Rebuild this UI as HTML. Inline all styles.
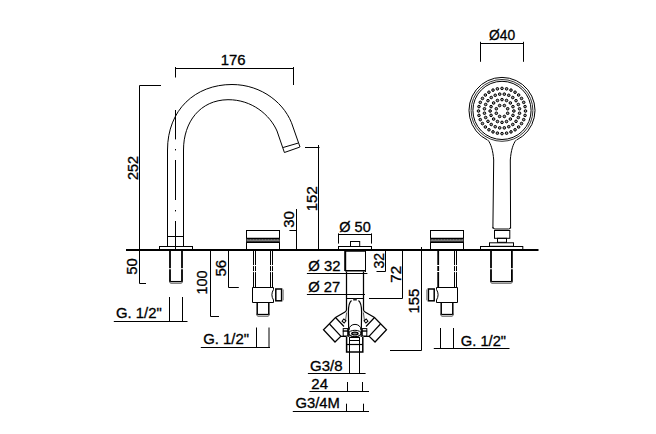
<!DOCTYPE html>
<html><head><meta charset="utf-8">
<style>
html,body{margin:0;padding:0;background:#fff;}
svg{display:block;}
text{font-family:"Liberation Sans",sans-serif;font-size:14px;fill:#000;stroke:#000;stroke-width:0.3px;}
</style></head>
<body>
<svg width="656" height="434" viewBox="0 0 656 434">
<rect width="656" height="434" fill="#fff"/>
<g fill="none" stroke="#000" stroke-width="1">
<!-- deck line -->
<line x1="126" y1="250" x2="538.5" y2="250" stroke-width="1.9"/>

<!-- ===== SPOUT ===== -->
<path d="M167.5,246.5 L167.5,150 C167.5,110 195,84.5 232,84.5 C262,84.5 286,104 293,127 L300,147"/>
<path d="M183.5,246.5 L183.5,150 C183.5,122 200,100 228,99.7 C252,99.5 270,115 277,131 L284.4,152.5"/>
<path d="M283.1,147.5 L298.1,143.1 M284.4,152.5 L299.8,147.1"/>
<line x1="167.5" y1="236.5" x2="183.5" y2="236.5"/>
<rect x="159.5" y="246.5" width="33" height="3"/>
<!-- center line -->
<path d="M175.5,110 V139.4 M175.5,149 V150.4 M175.5,160 V200 M175.5,210 V211.4 M175.5,221 V250"/>
<!-- below deck tube -->
<path d="M170,250 V281.5 M182,250 V281.5" stroke-width="1.8" stroke-dasharray="18.3 0.9 27"/>
<path d="M169.3,281.6 H182.7" stroke-width="1.3"/><path d="M170,281.6 V282.5 Q170,283.3 170.8,283.3 H181.2 Q182,283.3 182,282.5 V281.6" stroke="#666"/>

<!-- ===== LEFT HANDLE ===== -->
<g>
<rect x="246.5" y="230.5" width="33" height="19"/>
<rect x="246.5" y="238.2" width="33" height="4.2" fill="#6a6a6a" stroke="none"/>
<path d="M247,239.9 h32 M248.5,240.9 h31" stroke="#bbb" stroke-width="0.7" stroke-dasharray="1 2"/>
<line x1="246.5" y1="238.5" x2="279.5" y2="238.5" stroke-width="1.4"/>
<line x1="246.5" y1="242.2" x2="279.5" y2="242.2" stroke-width="1.4"/>
<path d="M273.5,289.5 V287.5 H252.5 V302.5 H273.5 V300 Q270.3,294.8 273.5,289.5"/>
<rect x="275.8" y="289" width="5.8" height="11.8" stroke-width="1.5"/>
<path d="M283.3,289.5 V300.3" stroke="#888"/>
<path d="M257.2,302.5 V314.5 M268.8,302.5 V314.5" stroke-width="1.5"/>
<path d="M256.5,314.5 H269.5" stroke-width="1.3"/>
<path d="M257.2,314.5 V315.5 Q257.2,316.3 258,316.3 H268 Q268.8,316.3 268.8,315.5 V314.5" stroke="#666"/>
</g>
<g transform="translate(710,0) scale(-1,1)">
<rect x="246.5" y="230.5" width="33" height="19"/>
<rect x="246.5" y="238.2" width="33" height="4.2" fill="#6a6a6a" stroke="none"/>
<path d="M247,239.9 h32 M248.5,240.9 h31" stroke="#bbb" stroke-width="0.7" stroke-dasharray="1 2"/>
<line x1="246.5" y1="238.5" x2="279.5" y2="238.5" stroke-width="1.4"/>
<line x1="246.5" y1="242.2" x2="279.5" y2="242.2" stroke-width="1.4"/>
<path d="M273.5,289.5 V287.5 H252.5 V302.5 H273.5 V300 Q270.3,294.8 273.5,289.5"/>
<rect x="275.8" y="289" width="5.8" height="11.8" stroke-width="1.5"/>
<path d="M283.3,289.5 V300.3" stroke="#888"/>
<path d="M257.2,302.5 V314.5 M268.8,302.5 V314.5" stroke-width="1.5"/>
<path d="M256.5,314.5 H269.5" stroke-width="1.3"/>
<path d="M257.2,314.5 V315.5 Q257.2,316.3 258,316.3 H268 Q268.8,316.3 268.8,315.5 V314.5" stroke="#666"/>
</g>
<path d="M253.5,250 V287.5 M255.5,250 V287.5 M270.5,250 V287.5 M272.5,250 V287.5" stroke-dasharray="15.1 1 5 1 20"/>
<path d="M454.5,250 V287.5 M456.5,250 V287.5" stroke-dasharray="15.1 1 5 1 20"/>
<path d="M438.2,250 V287.5" stroke-width="1.8" stroke-dasharray="15.1 1 5 1 20"/>

<!-- ===== CENTER DIVERTER ===== -->
<rect x="338.5" y="246.5" width="33" height="3"/>
<rect x="350.5" y="241.5" width="9.2" height="5"/>
<path d="M345.2,250 V271" stroke-width="2"/>
<path d="M365.5,250 V272"/>
<path d="M345,251 H365.3 M345,270.8 H365.3" stroke-width="1.6"/>
<path d="M346.5,271.5 V309.5 Q346.5,311.3 345,312 L335.5,317.5 L323.5,329.8 L335,342 L340.8,336.4 H346.4" stroke-width="1.25"/>
<path d="M363.5,271.5 V309.5 Q363.5,311.3 365,312 L374.5,317.5 L386.5,329.8 L375,342 L369.2,336.4 H363.6" stroke-width="1.25"/>
<path d="M346.5,294.5 H363.5 M346.5,298.5 H363.5" stroke-width="1.1"/>
<path d="M329.5,324 L341,336.4 M335.5,317.5 L344,326.5 M380.5,324 L369,336.4 M374.5,317.5 L366,326.5" stroke-width="1.2"/>
<path d="M346.6,312.5 L345.5,321 M363.4,312.5 L364.5,321" stroke="#555"/>
<g stroke="#000" fill="#fff" stroke-width="1">
<rect x="342.6" y="319.6" width="2.8" height="2.8" transform="rotate(40 344 321)"/>
<rect x="364.6" y="319.6" width="2.8" height="2.8" transform="rotate(-40 366 321)"/>
<rect x="343.2" y="328.6" width="4.5" height="2.4"/>
<rect x="362.3" y="328.6" width="4.5" height="2.4"/>
<rect x="343.2" y="331.2" width="4.5" height="4.8"/>
<rect x="362.3" y="331.2" width="4.5" height="4.8"/>
</g>
<!-- inner arch -->
<path d="M348.8,337 L348.4,312 C348.4,305 350,301.5 351.5,300.4 M361.2,337 L361.6,312 C361.6,305 360,301.5 358.5,300.4" stroke-width="1.2"/>
<rect x="353.2" y="298.5" width="3.6" height="2" fill="#222" stroke="none"/>
<path d="M349,330 C349,322.5 361,322.5 361,330"/>
<path d="M348.6,331 C348.6,339 361.4,339 361.4,331"/>
<ellipse cx="354.9" cy="333.5" rx="6.4" ry="3.2"/>
<ellipse cx="354.9" cy="333.6" rx="3.2" ry="1.4" fill="#888" stroke-width="1.2"/>
<!-- bottom outlet -->
<path d="M346.6,336.8 V352 H362.8 V336.8" stroke-width="1.5"/>
<path d="M349.5,337.5 H359.5 M349.5,340.5 H359.5 M349.5,337 V352 M359.5,337 V352"/><path d="M346.6,344.5 H362.8" stroke-width="1.2"/>

<!-- ===== HAND SHOWER ===== -->
<path d="M487.6,140.1 A33,33 0 1,1 516.4,140.1"/>
<circle cx="502" cy="110.4" r="30.9" stroke="#333"/>
<circle cx="502" cy="110.4" r="29.1"/>
<path d="M488.2,140.3 C490.8,144 493,150 493.7,160 L492.9,228.5 M515.8,140.3 C513.2,144 511,150 510.3,160 L510.6,228.5"/>
<path d="M492.9,227 Q493,229 495,229 H508.5 Q510.6,229 510.6,227"/>
<rect x="494.5" y="230.5" width="15.3" height="7.8"/>
<rect x="497.5" y="238.3" width="9" height="4"/>
<rect x="489.5" y="242.8" width="24" height="3.5"/>
<rect x="480.5" y="246.5" width="42.3" height="3"/>
<path d="M491,250 V281.6 M511.9,250 V281.6" stroke-width="1.8" stroke-dasharray="18.3 0.9 27"/>
<path d="M490.3,281.6 H512.6" stroke-width="1.3"/><path d="M491,281.6 V282.5 Q491,283.3 491.8,283.3 H511.1 Q511.9,283.3 511.9,282.5 V281.6" stroke="#666"/>

<!-- ===== DIMENSIONS ===== -->
<!-- 176 -->
<path d="M175.5,68.5 H293.5 M175.5,67 V77.5 M293.5,67 V85"/>
<!-- 252 / 50 -->
<path d="M139.5,85.5 H161 M139.5,85.5 V283.5 H146"/>
<!-- left G1/2 -->
<path d="M113.8,321.5 H187.5 M169.5,297 V322 M182.5,297 V322"/>
<!-- 100 -->
<path d="M210.5,250 V316.5 H219"/>
<!-- 56 -->
<path d="M228.5,250 V287.5 H238.8"/>
<!-- mid-left G1/2 -->
<path d="M200.8,347.5 H270 M256.5,327.5 V347.5 M269,327.5 V347.5"/>
<!-- 30 -->
<path d="M296.5,209 V250 M289.4,230.5 H296.5"/>
<!-- 152 -->
<path d="M305,147.5 H319.5 M318.5,145 V250"/>
<!-- Ø50 -->
<path d="M338,234.5 H372 M338.5,233.4 V243.6 M371.5,233.4 V243.6"/>
<!-- Ø32 / Ø27 underlines -->
<path d="M306.9,273.5 H367.4 M306.9,294.5 H365"/>
<!-- 32 right -->
<path d="M385.5,250 V271.5 H376.5"/>
<!-- 72 -->
<path d="M402.5,250 V298.5 H369"/>
<!-- 155 -->
<path d="M421.5,247 V350.5 H390"/>
<!-- right G1/2 -->
<path d="M433.8,348.5 H509.5 M440.5,328 V349 M453.5,328 V349"/>
<!-- G3/8, 24, G3/4M -->
<path d="M349.5,352 V373.5 M359.5,352 V373.5 M307.9,373.5 H365.6"/>
<path d="M309.4,391.5 H369 M347.5,382 V391.5 M362.5,382 V391.5"/>
<path d="M292.8,411.5 H369 M346.5,403.7 V411.5 M363.5,403.7 V411.5"/>
<!-- Ø40 -->
<path d="M480.2,43.5 H523.8 M480.5,41.8 V61.8 M523.5,41.8 V61.8"/>
</g>

<!-- shower dots -->
<g fill="#999" stroke="#000" stroke-width="1">
<circle cx="504.35" cy="105.55" r="1.3"/>
<circle cx="507.67" cy="108.74" r="1.3"/>
<circle cx="507.67" cy="113.26" r="1.3"/>
<circle cx="504.35" cy="116.45" r="1.3"/>
<circle cx="499.65" cy="116.45" r="1.3"/>
<circle cx="496.33" cy="113.26" r="1.3"/>
<circle cx="496.33" cy="108.74" r="1.3"/>
<circle cx="499.65" cy="105.55" r="1.3"/>
<circle cx="502.00" cy="99.60" r="1.3"/>
<circle cx="506.54" cy="100.47" r="1.3"/>
<circle cx="510.38" cy="102.94" r="1.3"/>
<circle cx="512.95" cy="106.64" r="1.3"/>
<circle cx="513.86" cy="111.00" r="1.3"/>
<circle cx="512.95" cy="115.36" r="1.3"/>
<circle cx="510.38" cy="119.06" r="1.3"/>
<circle cx="506.54" cy="121.53" r="1.3"/>
<circle cx="502.00" cy="122.40" r="1.3"/>
<circle cx="497.46" cy="121.53" r="1.3"/>
<circle cx="493.62" cy="119.06" r="1.3"/>
<circle cx="491.05" cy="115.36" r="1.3"/>
<circle cx="490.14" cy="111.00" r="1.3"/>
<circle cx="491.05" cy="106.64" r="1.3"/>
<circle cx="493.62" cy="102.94" r="1.3"/>
<circle cx="497.46" cy="100.47" r="1.3"/>
<circle cx="504.31" cy="94.15" r="1.3"/>
<circle cx="508.77" cy="95.29" r="1.3"/>
<circle cx="512.76" cy="97.51" r="1.3"/>
<circle cx="516.03" cy="100.65" r="1.3"/>
<circle cx="518.33" cy="104.49" r="1.3"/>
<circle cx="519.53" cy="108.78" r="1.3"/>
<circle cx="519.53" cy="113.22" r="1.3"/>
<circle cx="518.33" cy="117.51" r="1.3"/>
<circle cx="516.03" cy="121.35" r="1.3"/>
<circle cx="512.76" cy="124.49" r="1.3"/>
<circle cx="508.77" cy="126.71" r="1.3"/>
<circle cx="504.31" cy="127.85" r="1.3"/>
<circle cx="499.69" cy="127.85" r="1.3"/>
<circle cx="495.23" cy="126.71" r="1.3"/>
<circle cx="491.24" cy="124.49" r="1.3"/>
<circle cx="487.97" cy="121.35" r="1.3"/>
<circle cx="485.67" cy="117.51" r="1.3"/>
<circle cx="484.47" cy="113.22" r="1.3"/>
<circle cx="484.47" cy="108.78" r="1.3"/>
<circle cx="485.67" cy="104.49" r="1.3"/>
<circle cx="487.97" cy="100.65" r="1.3"/>
<circle cx="491.24" cy="97.51" r="1.3"/>
<circle cx="495.23" cy="95.29" r="1.3"/>
<circle cx="499.69" cy="94.15" r="1.3"/>
<circle cx="502.00" cy="88.40" r="1.3"/>
<circle cx="506.59" cy="88.83" r="1.3"/>
<circle cx="510.99" cy="90.12" r="1.3"/>
<circle cx="515.06" cy="92.21" r="1.3"/>
<circle cx="518.62" cy="95.02" r="1.3"/>
<circle cx="521.54" cy="98.44" r="1.3"/>
<circle cx="523.71" cy="102.35" r="1.3"/>
<circle cx="525.05" cy="106.59" r="1.3"/>
<circle cx="525.50" cy="111.00" r="1.3"/>
<circle cx="525.05" cy="115.41" r="1.3"/>
<circle cx="523.71" cy="119.65" r="1.3"/>
<circle cx="521.54" cy="123.56" r="1.3"/>
<circle cx="518.62" cy="126.98" r="1.3"/>
<circle cx="515.06" cy="129.79" r="1.3"/>
<circle cx="510.99" cy="131.88" r="1.3"/>
<circle cx="506.59" cy="133.17" r="1.3"/>
<circle cx="502.00" cy="133.60" r="1.3"/>
<circle cx="497.41" cy="133.17" r="1.3"/>
<circle cx="493.01" cy="131.88" r="1.3"/>
<circle cx="488.94" cy="129.79" r="1.3"/>
<circle cx="485.38" cy="126.98" r="1.3"/>
<circle cx="482.46" cy="123.56" r="1.3"/>
<circle cx="480.29" cy="119.65" r="1.3"/>
<circle cx="478.95" cy="115.41" r="1.3"/>
<circle cx="478.50" cy="111.00" r="1.3"/>
<circle cx="478.95" cy="106.59" r="1.3"/>
<circle cx="480.29" cy="102.35" r="1.3"/>
<circle cx="482.46" cy="98.44" r="1.3"/>
<circle cx="485.38" cy="95.02" r="1.3"/>
<circle cx="488.94" cy="92.21" r="1.3"/>
<circle cx="493.01" cy="90.12" r="1.3"/>
<circle cx="497.41" cy="88.83" r="1.3"/>
</g>

<!-- TEXT-START -->
<text transform="translate(220.80,65.47) scale(1.0636,1.0329)">176</text>
<text transform="translate(138.20,180.07) rotate(-90) scale(1.0331,1.0500)">252</text>
<text transform="translate(137.00,274.77) rotate(-90) scale(1.0643,1.0500)">50</text>
<text transform="translate(116.00,318.48) scale(1.0635,0.9951)">G. 1/2&quot;</text>
<text transform="translate(207.45,294.46) rotate(-90) scale(1.0312,1.0500)">100</text>
<text transform="translate(225.87,276.47) rotate(-90) scale(1.0713,1.0329)">56</text>
<text transform="translate(203.20,343.98) scale(1.0659,0.9951)">G. 1/2&quot;</text>
<text transform="translate(294.37,227.83) rotate(-90) scale(1.0690,1.0430)">30</text>
<text transform="translate(316.95,211.20) rotate(-90) scale(1.0698,1.0500)">152</text>
<text transform="translate(339.28,231.62) scale(1.0359,1.0217)">Ø 50</text>
<text transform="translate(308.27,270.73) scale(1.0609,0.9928)">Ø 32</text>
<text transform="translate(308.27,292.13) scale(1.0541,0.9928)">Ø 27</text>
<text transform="translate(383.97,268.60) rotate(-90) scale(1.0017,1.0228)">32</text>
<text transform="translate(400.90,282.69) rotate(-90) scale(1.0800,1.0462)">72</text>
<text transform="translate(418.94,313.61) rotate(-90) scale(1.0728,1.0500)">155</text>
<text transform="translate(460.81,345.67) scale(1.0515,1.0244)">G. 1/2&quot;</text>
<text transform="translate(310.00,370.98) scale(1.0724,0.9854)">G3/8</text>
<text transform="translate(311.30,389.30) scale(1.0713,1.0359)">24</text>
<text transform="translate(295.41,408.48) scale(1.0567,0.9951)">G3/4M</text>
<text transform="translate(489.01,39.63) scale(0.9852,0.9831)">Ø40</text>
<!-- TEXT-END -->
</svg>
</body></html>
